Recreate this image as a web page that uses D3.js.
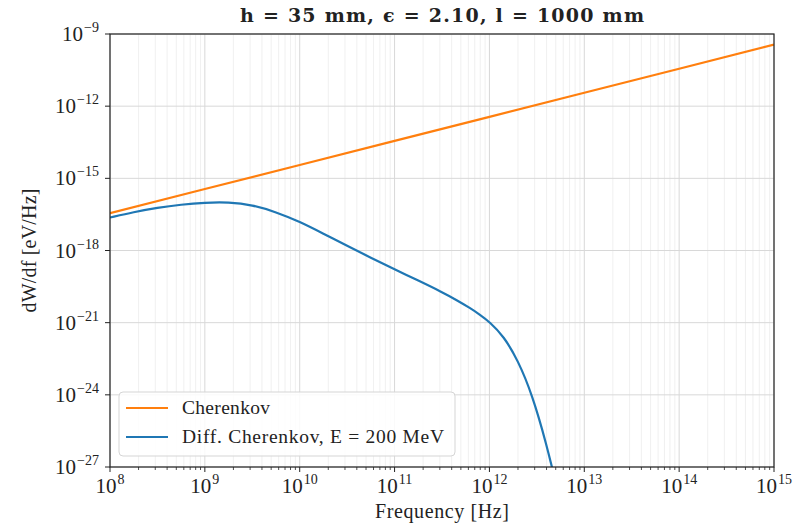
<!DOCTYPE html>
<html>
<head>
<meta charset="utf-8">
<script src="https://cdn.jsdelivr.net/npm/d3@7"></script>
<style>
  body { margin: 0; background: #fff; }
  svg { display: block; font-family: "Liberation Serif", "DejaVu Serif", serif; }
</style>
</head>
<body>
<svg id="chart"></svg>
<script>
const W = 802, H = 527;
const margin = { top: 34, right: 28, bottom: 60, left: 110 };

// Cherenkov reference line (dW/df, eV/Hz) at each decade of frequency
const cherFreq = [1e8, 1e9, 1e10, 1e11, 1e12, 1e13, 1e14, 1e15];
const cherVals = [3.6e-17, 3.6e-16, 3.6e-15, 3.6e-14, 3.6e-13, 3.6e-12, 3.6e-11, 3.6e-10];

// Diff. Cherenkov, E = 200 MeV (log10 f, log10 dW/df)
const diffLogF = [8.0, 8.25, 8.5, 8.75, 9.0, 9.25, 9.5, 9.75, 10.0, 10.25, 10.5, 10.75, 11.0, 11.25, 11.5, 11.65, 11.8, 11.9, 12.0, 12.15, 12.3, 12.45, 12.6, 12.72];
const diffLogW = [-16.63, -16.40, -16.22, -16.09, -16.01, -15.99, -16.10, -16.40, -16.80, -17.30, -17.81, -18.30, -18.78, -19.25, -19.73, -20.05, -20.40, -20.67, -20.96, -21.56, -22.56, -23.98, -26.02, -28.0];

const xTicks = [1e8, 1e9, 1e10, 1e11, 1e12, 1e13, 1e14, 1e15];
const yTicks = [1e-9, 1e-12, 1e-15, 1e-18, 1e-21, 1e-24, 1e-27];

const seriesNames = ["Cherenkov", "Diff. Cherenkov, E = 200 MeV"];
const seriesColors = ["#ff7f0e", "#1f77b4"];

const svg = d3.select("#chart").attr("width", W).attr("height", H);

const x = d3.scaleLog().domain([1e8, 1e15]).range([margin.left, W - margin.right]);
const y = d3.scaleLog().domain([1e-27, 1e-9]).range([H - margin.bottom, margin.top]);

const minorX = x.ticks().filter(v => !xTicks.some(t => Math.abs(t - v) / t < 1e-6));

svg.append("clipPath").attr("id", "plotclip")
  .append("rect")
  .attr("x", margin.left).attr("y", margin.top)
  .attr("width", W - margin.left - margin.right)
  .attr("height", H - margin.top - margin.bottom);

// grid
const grid = svg.append("g");
grid.selectAll("line.minor").data(minorX).enter().append("line")
  .attr("x1", d => x(d)).attr("x2", d => x(d))
  .attr("y1", margin.top).attr("y2", H - margin.bottom)
  .attr("stroke", "#ececec").attr("stroke-width", 0.8);
grid.selectAll("line.mx").data(xTicks).enter().append("line")
  .attr("x1", d => x(d)).attr("x2", d => x(d))
  .attr("y1", margin.top).attr("y2", H - margin.bottom)
  .attr("stroke", "#d8d8d8").attr("stroke-width", 1);
grid.selectAll("line.my").data(yTicks).enter().append("line")
  .attr("y1", d => y(d)).attr("y2", d => y(d))
  .attr("x1", margin.left).attr("x2", W - margin.right)
  .attr("stroke", "#d8d8d8").attr("stroke-width", 1);

// lines
const line = d3.line().x(d => x(d[0])).y(d => y(d[1]));
const plot = svg.append("g").attr("clip-path", "url(#plotclip)");

plot.append("path")
  .datum(cherFreq.map((f, i) => [f, cherVals[i]]))
  .attr("d", line)
  .attr("fill", "none").attr("stroke", seriesColors[0]).attr("stroke-width", 2.2);

plot.append("path")
  .datum(diffLogF.map((f, i) => [Math.pow(10, f), Math.pow(10, diffLogW[i])]))
  .attr("d", line.curve(d3.curveBasis))
  .attr("fill", "none").attr("stroke", seriesColors[1]).attr("stroke-width", 2.2);

// ticks
const axes = svg.append("g").attr("stroke", "#222");
axes.selectAll("line.xt").data(xTicks).enter().append("line")
  .attr("x1", d => x(d)).attr("x2", d => x(d))
  .attr("y1", H - margin.bottom).attr("y2", H - margin.bottom + 5)
  .attr("stroke-width", 1);
axes.selectAll("line.xm").data(minorX).enter().append("line")
  .attr("x1", d => x(d)).attr("x2", d => x(d))
  .attr("y1", H - margin.bottom).attr("y2", H - margin.bottom + 3)
  .attr("stroke-width", 0.8);
axes.selectAll("line.yt").data(yTicks).enter().append("line")
  .attr("y1", d => y(d)).attr("y2", d => y(d))
  .attr("x1", margin.left - 5).attr("x2", margin.left)
  .attr("stroke-width", 1);

// frame
svg.append("rect")
  .attr("x", margin.left).attr("y", margin.top)
  .attr("width", W - margin.left - margin.right)
  .attr("height", H - margin.top - margin.bottom)
  .attr("fill", "none").attr("stroke", "#222").attr("stroke-width", 1.2);

function powLabel(sel, v) {
  const e = Math.round(Math.log10(v));
  sel.append("tspan").text("10");
  sel.append("tspan").attr("dy", -9).attr("dx", 1).attr("font-size", 14)
    .text(e < 0 ? "\u2212" + (-e) : String(e));
}

svg.selectAll("text.xl").data(xTicks).enter().append("text")
  .attr("x", d => x(d)).attr("y", H - margin.bottom + 26)
  .attr("text-anchor", "middle").attr("font-size", 21).attr("fill", "#222")
  .each(function(d) { powLabel(d3.select(this), d); });

svg.selectAll("text.yl").data(yTicks).enter().append("text")
  .attr("x", margin.left - 11).attr("y", d => y(d) + 7)
  .attr("text-anchor", "end").attr("font-size", 21).attr("fill", "#222")
  .each(function(d) { powLabel(d3.select(this), d); });

// title and axis labels
svg.append("text")
  .attr("x", (margin.left + W - margin.right) / 2).attr("y", 22)
  .attr("text-anchor", "middle").attr("font-size", 19).attr("font-weight", "bold")
  .attr("font-family", "'DejaVu Serif', serif")
  .attr("fill", "#222")
  .attr("textLength", 404).attr("lengthAdjust", "spacing")
  .text("h = 35 mm, \u03f5 = 2.10, l = 1000 mm");

svg.append("text")
  .attr("x", (margin.left + W - margin.right) / 2).attr("y", 518)
  .attr("text-anchor", "middle").attr("font-size", 20).attr("fill", "#222")
  .attr("textLength", 134).attr("lengthAdjust", "spacing")
  .text("Frequency [Hz]");

svg.append("text")
  .attr("transform", `translate(36,${(margin.top + H - margin.bottom) / 2}) rotate(-90)`)
  .attr("text-anchor", "middle").attr("font-size", 20).attr("fill", "#222")
  .attr("textLength", 124).attr("lengthAdjust", "spacing")
  .text("dW/df [eV/Hz]");

// legend
const lg = svg.append("g");
lg.append("rect")
  .attr("x", 119).attr("y", 392).attr("width", 336).attr("height", 64)
  .attr("rx", 4).attr("fill", "rgba(255,255,255,0.85)")
  .attr("stroke", "#d5d5d5").attr("stroke-width", 1);
const legendWidths = [88, 262];
seriesNames.forEach((name, i) => {
  const yy = 408 + i * 29;
  lg.append("line")
    .attr("x1", 126).attr("x2", 168).attr("y1", yy).attr("y2", yy)
    .attr("stroke", seriesColors[i]).attr("stroke-width", 2.2);
  lg.append("text")
    .attr("x", 182).attr("y", yy + 6)
    .attr("font-size", 19.5).attr("fill", "#222")
    .attr("textLength", legendWidths[i]).attr("lengthAdjust", "spacing")
    .text(name);
});
</script>
</body>
</html>
